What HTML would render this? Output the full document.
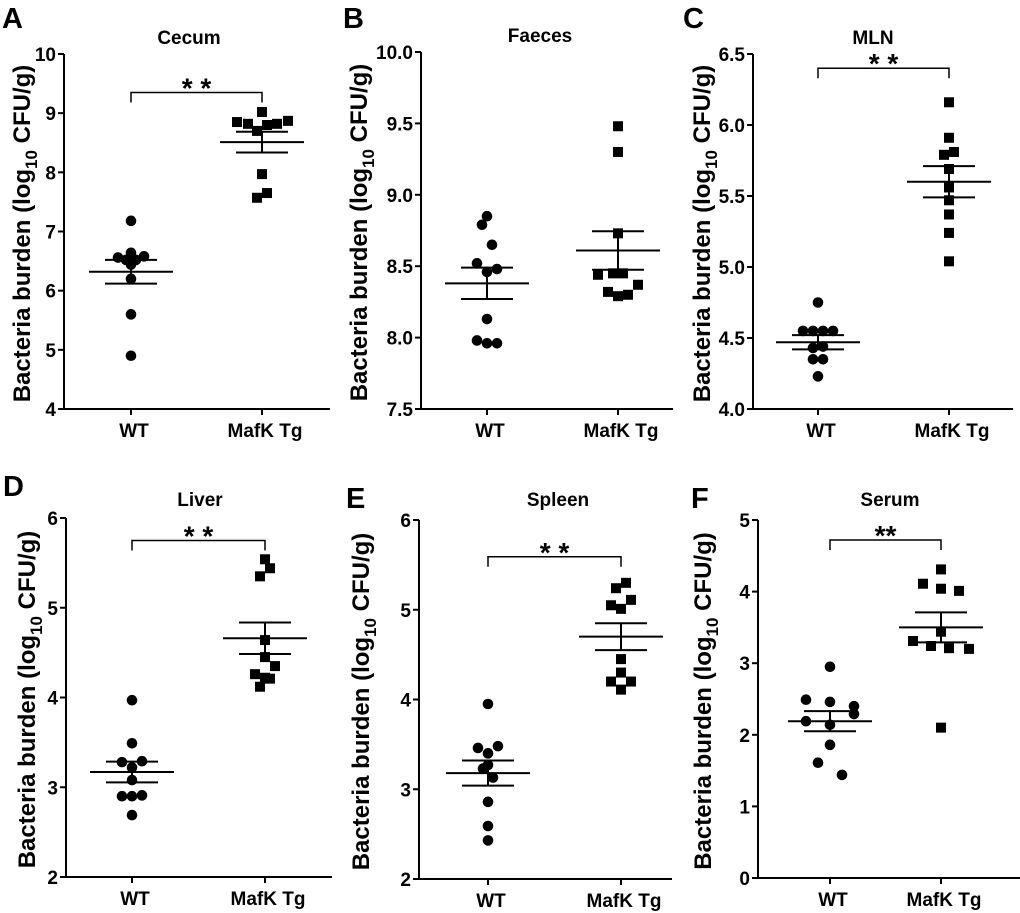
<!DOCTYPE html>
<html><head><meta charset="utf-8"><style>
html,body{margin:0;padding:0;background:#fff;}
svg{display:block;font-family:"Liberation Sans",Arial,sans-serif;font-weight:bold;}
</style></head><body>
<svg id="fig" width="1020" height="913" viewBox="0 0 1020 913"></svg>
<script>
// ---- Data arrays (log10 CFU/g) ----
const groups = ["WT", "MafK Tg"];
const cecumWT = [7.18,6.64,6.56,6.52,6.52,6.58,6.44,6.20,5.60,4.90];
const cecumTg = [9.02,8.85,8.82,8.80,8.82,8.87,8.70,7.97,7.65,7.57];
const faecesWT = [8.85,8.79,8.65,8.52,8.48,8.46,8.13,7.98,7.96,7.96];
const faecesTg = [9.48,9.30,8.73,8.44,8.45,8.45,8.37,8.32,8.29,8.30];
const mlnWT = [4.75,4.55,4.55,4.55,4.55,4.43,4.44,4.35,4.35,4.23];
const mlnTg = [6.16,5.91,5.79,5.81,5.69,5.56,5.47,5.37,5.24,5.04];
const liverWT = [3.97,3.49,3.28,3.29,3.22,3.08,2.90,2.90,2.91,2.69];
const liverTg = [5.54,5.44,5.35,4.64,4.45,4.26,4.35,4.22,4.21,4.12];
const spleenWT = [3.95,3.46,3.48,3.40,3.27,3.23,3.13,2.86,2.59,2.43];
const spleenTg = [5.30,5.24,5.11,5.05,5.01,4.45,4.30,4.20,4.20,4.11];
const serumWT = [2.95,2.49,2.46,2.40,2.29,2.19,2.14,1.86,1.61,1.44];
const serumTg = [4.31,4.11,4.04,4.01,3.44,3.31,3.24,3.21,3.20,2.10];
// mean and SEM per group (as drawn)
const cecumStats = [[6.32,0.20],[8.51,0.175]];
const faecesStats = [[8.38,0.11],[8.61,0.135]];
const mlnStats = [[4.47,0.05],[5.60,0.11]];
const liverStats = [[3.17,0.115],[4.66,0.175]];
const spleenStats = [[3.18,0.14],[4.70,0.15]];
const serumStats = [[2.19,0.14],[3.50,0.21]];
// tick labels
const cecumTicks = ["4","5","6","7","8","9","10"];
const faecesTicks = ["7.5","8.0","8.5","9.0","9.5","10.0"];
const mlnTicks = ["4.0","4.5","5.0","5.5","6.0","6.5"];
const liverTicks = ["2","3","4","5","6"];
const spleenTicks = ["2","3","4","5","6"];
const serumTicks = ["0","1","2","3","4","5"];
// horizontal scatter offsets (px) for overlapping points
const cecumJitWT = [0,0,-13,-5,5,13,0,0,0,0];
const cecumJitTg = [0,-25,-14,5,15,26,-5,0,5,-5];
const faecesJitWT = [0,-5,5,-10,10,0,0,-10,0,10];
const faecesJitTg = [0,0,0,-20,-5,5,20,-10,0,10];
const mlnJitWT = [0,-15,-5,5,15,-5,5,-5,5,0];
const mlnJitTg = [0,0,-5,5,0,0,0,0,0,0];
const liverJitWT = [0,0,-10,10,0,0,-10,0,10,0];
const liverJitTg = [0,5,-5,0,0,-10,10,0,5,-5];
const spleenJitWT = [0,-10,10,0,0,-5,5,0,0,0];
const spleenJitTg = [5,-5,10,-10,0,0,0,-10,10,0];
const serumJitWT = [0,-24,0,24,24,-24,0,0,-12,12];
const serumJitTg = [0,-18,0,18,0,-28,-10,8,28,0];

const NS="http://www.w3.org/2000/svg";
const svg=document.getElementById('fig');
function mk(tag,attrs,parent){const e=document.createElementNS(NS,tag);for(const k in attrs)e.setAttribute(k,attrs[k]);(parent||svg).appendChild(e);return e;}

function panel(p){
  const g=mk('g',{});
  
  
  const ymin=parseFloat(p.ticks[0]), ymax=parseFloat(p.ticks[p.ticks.length-1]);
  const Y=v=>p.yb-(v-ymin)/(ymax-ymin)*(p.yb-p.yt);
  const X=i=>p.gx[i];
  const ya=mk('line',{x1:p.ax,y1:p.yt,x2:p.ax,y2:p.yb,stroke:'#000','stroke-width':2},g);
  
  
  const xa=mk('line',{x1:p.ax-6,y1:p.yb,x2:p.xe,y2:p.yb,stroke:'#000','stroke-width':2},g);
  
  
  p.ticks.forEach(t=>{
    const v=parseFloat(t), y=Y(v);
    mk('line',{x1:p.ax-6,y1:y,x2:p.ax,y2:y,stroke:'#000','stroke-width':2},g);
    const tx=mk('text',{x:p.ax-8,y:y+7,'text-anchor':'end','font-size':19},g);
    tx.textContent=t;
    
    
  });
  groups.forEach((gname,i)=>{
    mk('line',{x1:X(i),y1:p.yb,x2:X(i),y2:p.yb+6,stroke:'#000','stroke-width':2},g);
    const tx=mk('text',{x:X(i)+3,y:p.yb+28,'text-anchor':'middle','font-size':19},g);
    tx.textContent=gname;
    
    
  });
  const yl=mk('text',{transform:`translate(${p.ylx},${(p.yt+p.yb)/2+2}) rotate(-90)`,'text-anchor':'middle','font-size':24},g);
  yl.innerHTML='Bacteria burden (log<tspan dy="7" font-size="17">10</tspan><tspan dy="-7"> CFU/g)</tspan>';
  
  
  const tt=mk('text',{x:p.tx,y:p.ty,'text-anchor':'middle','font-size':19},g);
  tt.textContent=p.title;
  
  
  const lt=mk('text',{x:p.lx,y:p.ly,'font-size':29},g);
  lt.textContent=p.letter;
  
  
  [p.wt,p.tg].forEach((arr,gi)=>{
    arr.forEach((v,k)=>{
      const cx=X(gi)+p.jit[gi][k], cy=Y(v);
      let m;
      if(gi===0) m=mk('circle',{cx:cx,cy:cy,r:5.3,fill:'#000'},g);
      else m=mk('rect',{x:cx-5,y:cy-5,width:10,height:10,fill:'#000'},g);
      
      
    });
  });
  p.stats.forEach((s,i)=>{
    const [m,se]=s, x=X(i);
    const ml=mk('line',{x1:x-42,y1:Y(m),x2:x+42,y2:Y(m),stroke:'#000','stroke-width':2},g);
    
    
    const el=mk('path',{d:`M${x-26},${Y(m+se)}H${x+26}M${x-26},${Y(m-se)}H${x+26}M${x},${Y(m+se)}V${Y(m-se)}`,stroke:'#000','stroke-width':2,fill:'none'},g);
    
    
  });
  if(p.br!==null){
    const by=Y(p.br);
    const b=mk('path',{d:`M${X(0)},${by+10}V${by}H${X(1)}V${by+10}`,stroke:'#000','stroke-width':1.5,fill:'none'},g);
    
    
    const st=mk('text',{x:(X(0)+X(1))/2,y:by+5,'text-anchor':'middle','font-size':28},g);
    st.textContent=p.key==='serum'?'**':'* *';
    
    
  }
}

panel({key:'cecum',title:'Cecum',letter:'A',ticks:cecumTicks,wt:cecumWT,tg:cecumTg,stats:cecumStats,jit:[cecumJitWT,cecumJitTg],
  ax:64,xe:330,yt:54,yb:409,gx:[131,262],ylx:30,tx:189,ty:44,lx:2,ly:28,br:9.35});
panel({key:'faeces',title:'Faeces',letter:'B',ticks:faecesTicks,wt:faecesWT,tg:faecesTg,stats:faecesStats,jit:[faecesJitWT,faecesJitTg],
  ax:421,xe:673,yt:52,yb:409,gx:[487,618],ylx:367,tx:540,ty:42,lx:343,ly:28,br:null});
panel({key:'mln',title:'MLN',letter:'C',ticks:mlnTicks,wt:mlnWT,tg:mlnTg,stats:mlnStats,jit:[mlnJitWT,mlnJitTg],
  ax:753,xe:1013,yt:54,yb:409,gx:[818,949],ylx:710,tx:873,ty:44,lx:683,ly:28,br:6.40});
panel({key:'liver',title:'Liver',letter:'D',ticks:liverTicks,wt:liverWT,tg:liverTg,stats:liverStats,jit:[liverJitWT,liverJitTg],
  ax:66,xe:332,yt:518,yb:877,gx:[132,265],ylx:35,tx:200,ty:506,lx:3,ly:496,br:5.75});
panel({key:'spleen',title:'Spleen',letter:'E',ticks:spleenTicks,wt:spleenWT,tg:spleenTg,stats:spleenStats,jit:[spleenJitWT,spleenJitTg],
  ax:419,xe:672,yt:520,yb:879,gx:[488,621],ylx:369,tx:558,ty:506,lx:346,ly:508,br:5.59});
panel({key:'serum',title:'Serum',letter:'F',ticks:serumTicks,wt:serumWT,tg:serumTg,stats:serumStats,jit:[serumJitWT,serumJitTg],
  ax:758,xe:1020,yt:520,yb:878,gx:[830,941],ylx:711,tx:890,ty:506,lx:691,ly:508,br:4.72});
</script>
</body></html>
